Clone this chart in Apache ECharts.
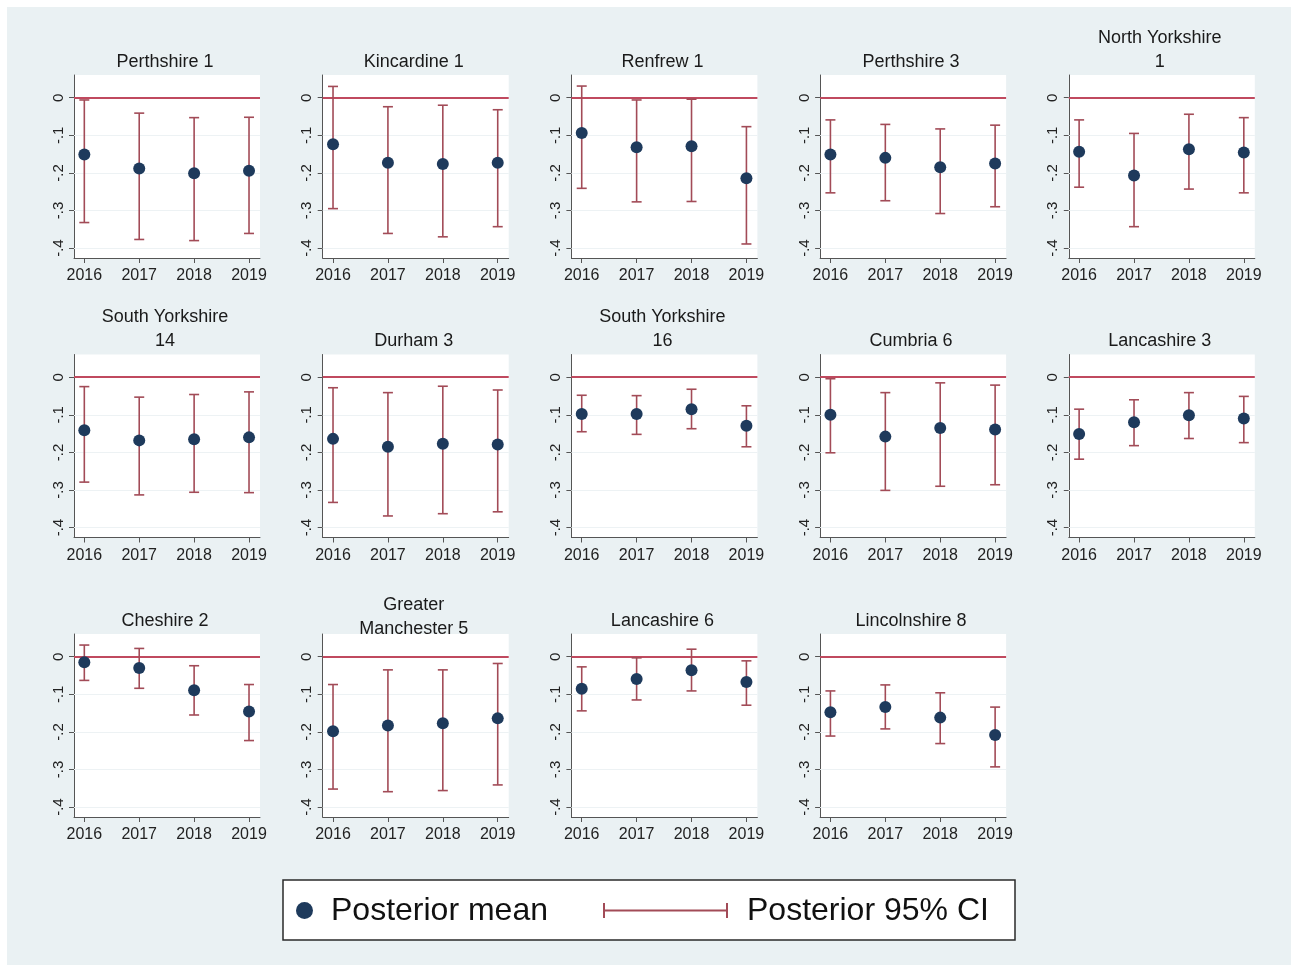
<!DOCTYPE html>
<html><head><meta charset="utf-8">
<script src="https://cdn.jsdelivr.net/npm/echarts@6/dist/echarts.min.js"></script>
<style>html,body{margin:0;padding:0;background:#fff}#c{width:1292px;height:967px}</style>
</head><body><div id="c"></div>
<script>
// ---------------- data ----------------
const years = [2016, 2017, 2018, 2019];
const panelTitles = [
  'Perthshire 1', 'Kincardine 1', 'Renfrew 1', 'Perthshire 3', 'North Yorkshire\n1',
  'South Yorkshire\n14', 'Durham 3', 'South Yorkshire\n16', 'Cumbria 6', 'Lancashire 3',
  'Cheshire 2', 'Greater\nManchester 5', 'Lancashire 6', 'Lincolnshire 8'
];
const posteriorMean = [
  [-0.151, -0.188, -0.201, -0.194],
  [-0.124, -0.173, -0.176, -0.173],
  [-0.094, -0.132, -0.129, -0.214],
  [-0.151, -0.160, -0.185, -0.175],
  [-0.144, -0.207, -0.137, -0.146],
  [-0.141, -0.168, -0.165, -0.160],
  [-0.164, -0.185, -0.177, -0.179],
  [-0.098, -0.098, -0.085, -0.129],
  [-0.100, -0.158, -0.135, -0.139],
  [-0.151, -0.120, -0.101, -0.110],
  [-0.015, -0.030, -0.089, -0.146],
  [-0.198, -0.183, -0.177, -0.164],
  [-0.085, -0.059, -0.036, -0.067],
  [-0.148, -0.134, -0.162, -0.208]
];
const ciLower = [
  [-0.332, -0.377, -0.380, -0.361],
  [-0.295, -0.361, -0.370, -0.343],
  [-0.241, -0.277, -0.276, -0.389],
  [-0.253, -0.274, -0.308, -0.290],
  [-0.238, -0.343, -0.243, -0.253],
  [-0.279, -0.313, -0.306, -0.307],
  [-0.333, -0.369, -0.363, -0.358],
  [-0.145, -0.152, -0.137, -0.185],
  [-0.201, -0.301, -0.290, -0.286],
  [-0.218, -0.182, -0.163, -0.174],
  [-0.063, -0.084, -0.155, -0.223],
  [-0.352, -0.359, -0.356, -0.341],
  [-0.144, -0.115, -0.091, -0.129],
  [-0.211, -0.192, -0.231, -0.293]
];
const ciUpper = [
  [-0.006, -0.041, -0.053, -0.052],
  [0.030, -0.024, -0.020, -0.032],
  [0.031, -0.006, -0.004, -0.077],
  [-0.059, -0.071, -0.083, -0.073],
  [-0.059, -0.095, -0.044, -0.053],
  [-0.025, -0.053, -0.046, -0.039],
  [-0.028, -0.041, -0.024, -0.034],
  [-0.048, -0.049, -0.032, -0.076],
  [-0.004, -0.041, -0.015, -0.021],
  [-0.085, -0.060, -0.041, -0.051],
  [0.031, 0.022, -0.024, -0.074],
  [-0.074, -0.035, -0.035, -0.018],
  [-0.027, -0.003, 0.020, -0.011],
  [-0.091, -0.075, -0.096, -0.134]
];
const yTickValues = [0, -0.1, -0.2, -0.3, -0.4];
const yTickLabels = ['0', '-.1', '-.2', '-.3', '-.4'];
const referenceLine = 0;
const legendLabels = ['Posterior mean', 'Posterior 95% CI'];

// ---------------- style / layout ----------------
const FONT = '"Liberation Sans", Arial, Helvetica, sans-serif';
const NAVY = '#1e3a5c';
const CI_COLOR = '#a24b57';
const ZERO_COLOR = '#c04a5f';
const AXIS_COLOR = '#555';
const BG = '#eaf1f3';
const COL_STEP = 248.7, ROW_STEP = 279.5;
const GRID_LEFT0 = 74, GRID_TOP0 = 75, GRID_W = 186, GRID_H = 183;
const X_MIN = 2015.812, X_MAX = 2019.2;
const Y_MIN = -0.4263, Y_MAX = 0.0604;
const titleShift = {11: 8};

const grids = [], xAxes = [], yAxes = [], series = [], titles = [];
panelTitles.forEach((t, i) => {
  const r = Math.floor(i / 5), c = i % 5;
  const left = GRID_LEFT0 + COL_STEP * c;
  const top = GRID_TOP0 + ROW_STEP * r;
  const zeroY = top + 22.7;
  grids.push({left: left, top: top, width: GRID_W, height: GRID_H,
    show: true, backgroundColor: '#fff', borderWidth: 0, containLabel: false});
  xAxes.push({
    gridIndex: i, type: 'value', min: X_MIN, max: X_MAX,
    axisLine: {show: true, onZero: false, lineStyle: {color: AXIS_COLOR, width: 1}},
    axisTick: {show: true, length: 5, customValues: years, lineStyle: {color: AXIS_COLOR}},
    axisLabel: {customValues: years, formatter: v => String(Math.round(v)),
      fontSize: 16, color: '#222', margin: 10, fontFamily: FONT},
    splitLine: {show: false}
  });
  yAxes.push({
    gridIndex: i, type: 'value', min: Y_MIN, max: Y_MAX,
    axisLine: {show: true, onZero: false, lineStyle: {color: AXIS_COLOR, width: 1}},
    axisTick: {show: true, length: 5, customValues: yTickValues, lineStyle: {color: AXIS_COLOR}},
    axisLabel: {customValues: yTickValues, rotate: 90,
      formatter: v => { const k = yTickValues.findIndex(y => Math.abs(y - v) < 1e-6); return k >= 0 ? yTickLabels[k] : ''; },
      fontSize: 15, color: '#222', margin: 8, fontFamily: FONT},
    splitLine: {show: false}
  });
  const nLines = t.split('\n').length;
  const shift = titleShift[i] || 0;
  titles.push({
    text: t, left: left + GRID_W / 2 - 2, textAlign: 'center',
    top: zeroY - 47.7 - (nLines - 1) * 24 + shift, padding: 0,
    textStyle: {fontSize: 18, fontWeight: 'normal', color: '#1a1a1a', fontFamily: FONT, lineHeight: 24}
  });
  series.push({
    name: legendLabels[1], type: 'custom', xAxisIndex: i, yAxisIndex: i, z: 3,
    itemStyle: {color: CI_COLOR},
    data: years.map((y, k) => [y, ciLower[i][k], ciUpper[i][k]]),
    renderItem: (params, api) => {
      const x = api.value(0);
      const pHi = api.coord([x, api.value(2)]);
      const pLo = api.coord([x, api.value(1)]);
      const cap = 5;
      const st = {stroke: CI_COLOR, lineWidth: 1.6};
      return {type: 'group', children: [
        {type: 'line', shape: {x1: pHi[0], y1: pHi[1], x2: pLo[0], y2: pLo[1]}, style: st},
        {type: 'line', shape: {x1: pHi[0] - cap, y1: pHi[1], x2: pHi[0] + cap, y2: pHi[1]}, style: st},
        {type: 'line', shape: {x1: pLo[0] - cap, y1: pLo[1], x2: pLo[0] + cap, y2: pLo[1]}, style: st}
      ]};
    },
    markLine: {silent: true, z: 1, symbol: 'none', label: {show: false}, animation: false,
      lineStyle: {color: '#edf2f4', width: 1, type: 'solid'},
      data: yTickValues.filter(v => v !== referenceLine).map(v => ({yAxis: v}))}
  });
  series.push({
    name: legendLabels[0], type: 'scatter', xAxisIndex: i, yAxisIndex: i, z: 4,
    symbol: 'circle', symbolSize: 12, itemStyle: {color: NAVY, opacity: 1},
    data: years.map((y, k) => [y, posteriorMean[i][k]]),
    markLine: {silent: true, z: 2, symbol: 'none', label: {show: false}, animation: false,
      lineStyle: {color: ZERO_COLOR, width: 2, type: 'solid'},
      data: [{yAxis: referenceLine}]}
  });
});

const graphic = [
  {type: 'rect', z: -10, shape: {x: 7, y: 7, width: 1284, height: 958}, style: {fill: BG}},
  {type: 'rect', z: 50, shape: {x: 283, y: 880, width: 732, height: 60}, style: {fill: '#fff', stroke: '#2a2a2a', lineWidth: 1.5}},
  {type: 'circle', z: 51, shape: {cx: 304.5, cy: 910.5, r: 8.5}, style: {fill: NAVY}},
  {type: 'text', z: 51, x: 331, y: 911, style: {text: legendLabels[0], fontSize: 32, fontFamily: FONT, fill: '#111', textVerticalAlign: 'middle', verticalAlign: 'middle'}},
  {type: 'line', z: 51, shape: {x1: 604, y1: 910.5, x2: 727, y2: 910.5}, style: {stroke: CI_COLOR, lineWidth: 2}},
  {type: 'line', z: 51, shape: {x1: 604, y1: 903, x2: 604, y2: 918}, style: {stroke: CI_COLOR, lineWidth: 2}},
  {type: 'line', z: 51, shape: {x1: 727, y1: 903, x2: 727, y2: 918}, style: {stroke: CI_COLOR, lineWidth: 2}},
  {type: 'text', z: 51, x: 747, y: 911, style: {text: legendLabels[1], fontSize: 32, fontFamily: FONT, fill: '#111', textVerticalAlign: 'middle', verticalAlign: 'middle'}}
];

const chart = echarts.init(document.getElementById('c'), null, {renderer: 'canvas'});
chart.setOption({
  animation: false,
  backgroundColor: '#fff',
  title: titles,
  grid: grids,
  xAxis: xAxes,
  yAxis: yAxes,
  series: series,
  graphic: graphic
});
</script>
</body></html>
